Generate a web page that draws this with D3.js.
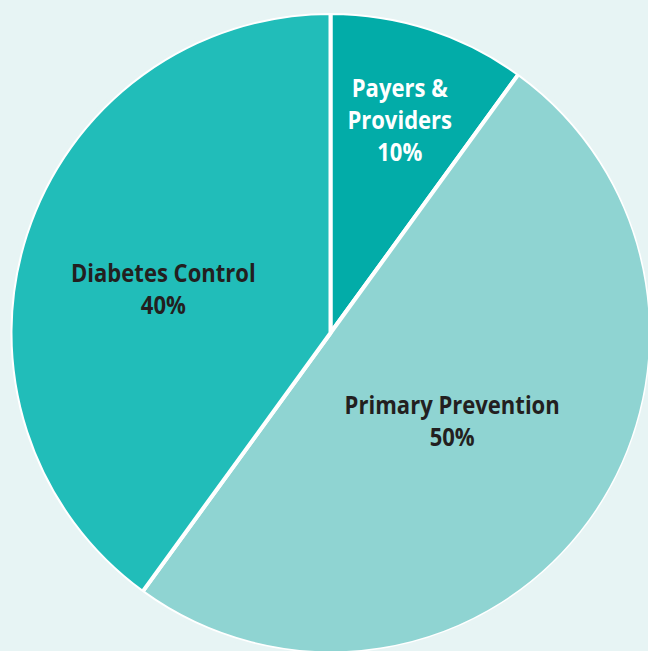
<!DOCTYPE html>
<html>
<head>
<meta charset="utf-8">
<script src="https://cdn.jsdelivr.net/npm/d3@7"></script>
<style>
  html, body { margin: 0; padding: 0; background: #e7f4f4; }
  svg { display: block; }
</style>
</head>
<body>
<svg id="chart" width="648" height="651"></svg>
<script>
// Budget shares by programme area
const categories = ["Payers & Providers", "Primary Prevention", "Diabetes Control"];
const shares = [10, 50, 40];
const labelLines = [["Payers &", "Providers"], ["Primary Prevention"], ["Diabetes Control"]];

const colors = ["#02aca8", "#8fd4d2", "#21bdb9"];
const textColors = ["#ffffff", "#231f20", "#231f20"];
// label placement: distance from the centre (fraction of radius) and angular nudge (degrees)
const labelRadius = [0.70, 0.47, 0.54];
const labelNudge = [0, 0, -3.3];

const width = 648, height = 651;
const cx = 330.5, cy = 333, r = 320;

const svg = d3.select("#chart");
svg.append("rect").attr("width", width).attr("height", height).attr("fill", "#e7f4f4");

const data = categories.map((c, i) => ({ name: c, value: shares[i], i }));
const pie = d3.pie().value(d => d.value).sort(null);
const arcs = pie(data);
const arc = d3.arc().innerRadius(0).outerRadius(r);

const g = svg.append("g").attr("transform", `translate(${cx},${cy})`);

g.selectAll("path.slice")
  .data(arcs)
  .join("path")
  .attr("class", "slice")
  .attr("d", arc)
  .attr("fill", d => colors[d.data.i])
  .attr("stroke", "#ffffff")
  .attr("stroke-width", 4)
  .attr("stroke-linejoin", "round");

// cover the outer rim of the stroke so only the radial dividers remain white
g.append("circle").attr("r", r + 2).attr("fill", "none")
  .attr("stroke", "#e7f4f4").attr("stroke-width", 4);

const lineH = 32;
g.selectAll("text.label")
  .data(arcs)
  .join("text")
  .attr("class", "label")
  .attr("text-anchor", "middle")
  .attr("font-family", "'Open Sans', sans-serif")
  .attr("font-weight", 700)
  .attr("font-size", 24.5)
  .attr("fill", d => textColors[d.data.i])
  .each(function(d) {
    const k = labelRadius[d.data.i] * r;
    const a = (d.startAngle + d.endAngle) / 2 + labelNudge[d.data.i] * Math.PI / 180;
    const x = k * Math.sin(a), y = -k * Math.cos(a);
    const lines = labelLines[d.data.i].concat([d.data.value + "%"]);
    const top = -(lines.length - 1) * lineH / 2;
    const t = d3.select(this).attr("transform", `translate(${x},${y}) scale(0.9,1)`);
    lines.forEach((s, j) => {
      t.append("tspan")
        .attr("x", 0)
        .attr("y", top + j * lineH)
        .attr("dy", "0.35em")
        .text(s);
    });
  });
</script>
</body>
</html>
